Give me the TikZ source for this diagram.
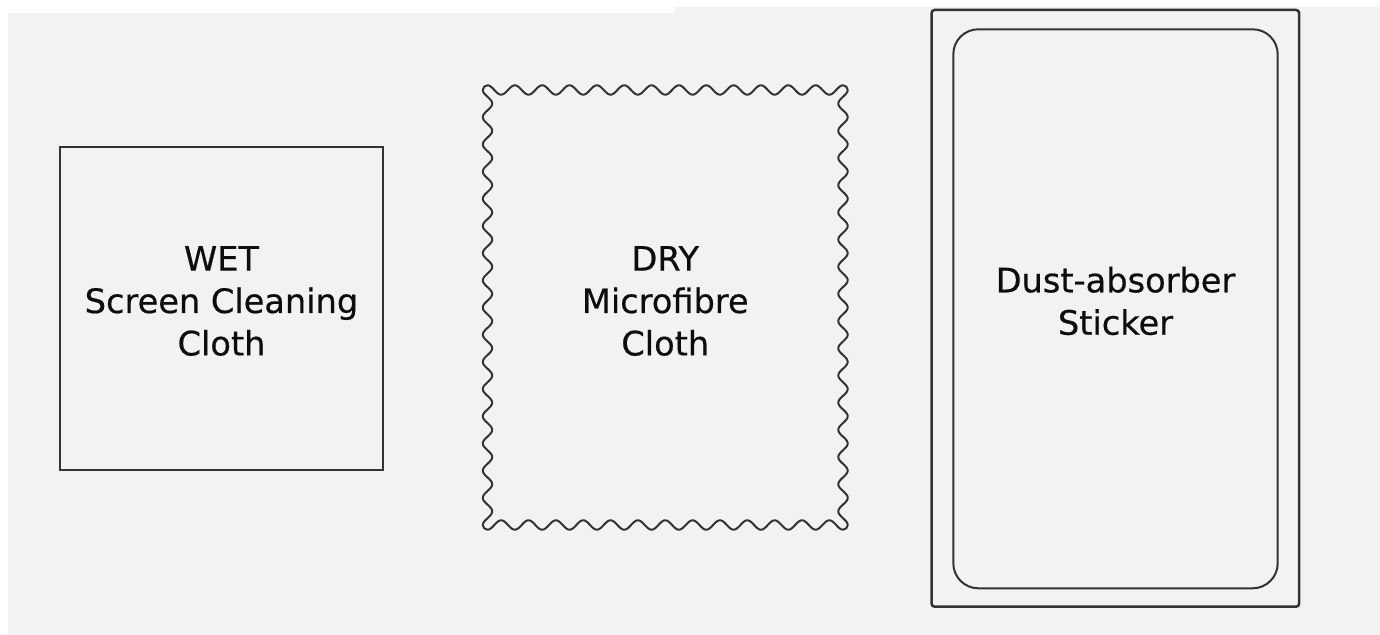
\documentclass[tikz,border=0pt]{standalone}
\usepackage{fontspec}
\setmainfont[FakeBold=0.5]{DejaVu Sans}
\definecolor{bggray}{HTML}{F2F2F2}
\definecolor{linec}{HTML}{333333}
\definecolor{txt}{HTML}{0D0D0D}
\begin{document}
\begin{tikzpicture}[x=0.5pt,y=0.5pt,
  label/.style={align=center,text=txt,inner sep=0pt,font=\fontsize{16.8}{21.2}\selectfont},
  plainbox/.style={draw=linec,line width=0.75pt,inner sep=0pt,outer sep=0pt},
  wave/.style={draw=linec,line width=1pt,line join=round},
  outerbox/.style={draw=linec,line width=1.25pt,rounded corners=1.5pt,inner sep=0pt,outer sep=0pt},
  innerbox/.style={draw=linec,line width=1pt,rounded corners=12.5pt,inner sep=0pt,outer sep=0pt}]
\useasboundingbox (0,0) rectangle (1380,635);
\fill[white] (0,0) rectangle (1380,635);
\fill[bggray] (8,0) -- (8,622) -- (675,622) -- (675,628) -- (1380,628) -- (1380,0) -- cycle;
% WET box
\node[plainbox,minimum width=161.5pt,minimum height=161.5pt] (wet) at (221.5,326.5) {};
\node[label] (wettext) at (221.5,334) {WET\\Screen Cleaning\\Cloth};
% DRY wavy cloth
\def\xa{487.5}\def\xb{843}\def\ya{545}\def\yb{110}\def\am{4.7}
\draw[wave] (\xa-\am,\ya) arc[start angle=180,end angle=90,radius=2.35pt]
 -- plot[domain=\xa:\xb,samples=261] (\x,{\ya+\am*cos(13.16454*(\x-\xa))})
 arc[start angle=90,end angle=0,radius=2.35pt]
 -- plot[domain=\ya:\yb,samples=321] ({\xb+\am*cos(13.24138*(\ya-\x))},\x)
 arc[start angle=0,end angle=-90,radius=2.35pt]
 -- plot[domain=\xb:\xa,samples=261] (\x,{\yb-\am*cos(13.16454*(\xb-\x))})
 arc[start angle=-90,end angle=-180,radius=2.35pt]
 -- plot[domain=\yb:\ya,samples=321] ({\xa-\am*cos(13.24138*(\x-\yb))},\x)
 -- cycle;
\node[inner sep=0pt,minimum width=177.75pt,minimum height=217.5pt] (dry) at (665.25,327.5) {};
\node[label] (drytext) at (665.25,334) {DRY\\Microfibre\\Cloth};
% Dust-absorber sticker
\node[outerbox,minimum width=183.75pt,minimum height=298.35pt] (outer) at (1115.35,326.65) {};
\node[innerbox,minimum width=162.2pt,minimum height=279.5pt] (inner) at (1115.5,326.2) {};
\node[label] (dusttext) at (1115.5,334) {Dust-absorber\\Sticker};
\end{tikzpicture}
\end{document}
